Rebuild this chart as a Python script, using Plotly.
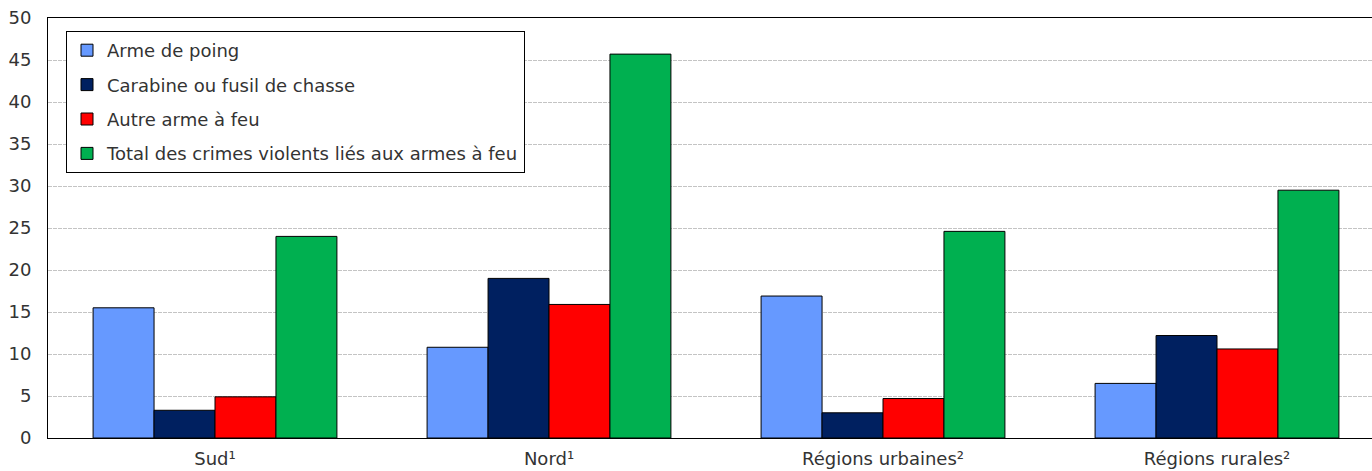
import plotly.graph_objects as go

categories = ["Sud¹", "Nord¹", "Régions urbaines²", "Régions rurales²"]
series_names = [
    "Arme de poing",
    "Carabine ou fusil de chasse",
    "Autre arme à feu",
    "Total des crimes violents liés aux armes à feu",
]
arme_de_poing = [15.5, 10.8, 16.9, 6.5]
carabine_fusil = [3.3, 19.0, 3.0, 12.2]
autre_arme = [4.9, 15.9, 4.7, 10.6]
total_crimes = [24.0, 45.7, 24.6, 29.5]
colors = ["#6699FF", "#002060", "#FF0000", "#00B050"]

W, H = 1372, 471
ML, MR, MT, MB = 48, 0, 18, 33
font_family = "DejaVu Sans, Verdana, sans-serif"
text_color = "#333333"

fig = go.Figure()
for i, (name, vals) in enumerate(zip(series_names,
                                     [arme_de_poing, carabine_fusil, autre_arme, total_crimes])):
    fig.add_trace(go.Bar(
        x=categories, y=vals, name=name, legendgroup=f"g{i}",
        marker=dict(color=colors[i], line=dict(color="#000000", width=1)),
    ))

plot_w = W - ML - MR
plot_h = H - MT - MB
cat_px = 334.0  # pixels per category slot
x_end = -0.5 + plot_w / cat_px

fig.update_layout(
    width=W, height=H,
    margin=dict(l=ML, r=MR, t=MT, b=MB),
    paper_bgcolor="white", plot_bgcolor="white",
    barmode="group", bargap=0.27, bargroupgap=0,
    font=dict(family=font_family, size=17, color=text_color),
    showlegend=True,
    legend=dict(
        x=(66 - ML) / plot_w, y=(H - MB - 31) / plot_h,
        xanchor="left", yanchor="top",
        bgcolor="white", bordercolor="#000000", borderwidth=1,
        font=dict(family=font_family, size=18, color=text_color),
        tracegroupgap=8, traceorder="grouped", itemwidth=30,
    ),
    xaxis=dict(
        range=[-0.5, x_end], showline=True, linecolor="#000000", linewidth=1,
        mirror=True, ticks="", showgrid=False, fixedrange=True,
        tickfont=dict(size=18, color=text_color), ticklabelstandoff=4,
    ),
    yaxis=dict(
        range=[0, 50], dtick=5, showline=True, linecolor="#000000", linewidth=1,
        ticks="", showgrid=True, gridcolor="#C4C4C4", gridwidth=1, griddash="4px,1px",
        zeroline=False, tickfont=dict(size=18, color=text_color), ticklabelstandoff=12,
    ),
)

fig.write_html("out.html")
